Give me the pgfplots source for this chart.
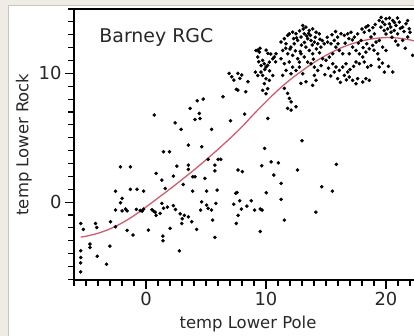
\documentclass[border=0pt]{standalone}
\usepackage{fontspec}
\setmainfont{DejaVu Sans}
\usepackage{pgfplots}
\usepackage{pgfplotstable}
\pgfplotsset{compat=1.18}
\definecolor{bgbeige}{RGB}{238,236,229}
\definecolor{framegray}{RGB}{200,198,192}
\definecolor{fitred}{RGB}{208,92,112}
\definecolor{txt}{RGB}{40,40,40}

\pgfplotstableread{
x y
-5.44 -1.66
-5.22 -2.12
-5.44 -3.78
-5.44 -4.30
-5.44 -4.72
-5.44 -5.42
-4.67 -3.26
-4.67 -3.52
-4.20 -1.66
-4.11 -1.97
-4.06 -4.20
-3.29 -4.82
-3.01 -3.42
-2.96 -1.53
-2.54 -1.92
-2.54 0.85
-2.54 -0.62
-2.13 -0.05
-2.13 2.74
-1.99 -0.68
-1.99 0.29
-1.71 -0.54
-1.57 -0.68
-1.57 -2.20
-1.30 2.74
-1.30 0.99
-1.08 -2.56
-0.80 -0.57
-0.75 0.99
-0.47 -0.65
-0.33 -0.70
-0.20 0.85
-0.20 -0.54
0.20 -2.18
0.50 -0.60
0.63 -0.70
0.69 6.76
0.77 -0.78
0.85 -1.03
0.85 2.23
1.18 -0.88
1.32 -0.10
1.32 1.71
1.41 -2.64
1.41 -3.00
1.46 3.91
1.46 -0.47
1.60 1.06
1.79 -0.39
1.96 3.91
2.01 -2.04
2.28 2.02
2.28 -0.28
2.43 6.16
2.46 -0.57
2.57 2.80
2.78 -3.78
2.85 -0.91
2.92 5.65
2.98 -1.66
3.02 -1.29
3.11 1.37
3.19 -1.03
3.53 4.43
3.53 2.87
3.53 2.54
3.53 -1.14
3.67 7.28
3.81 -1.53
3.89 1.97
3.89 0.85
4.08 1.97
4.08 6.42
4.22 -2.12
4.27 7.87
4.44 6.89
4.50 6.50
4.55 -0.62
4.64 4.30
4.64 0.02
4.77 8.00
4.91 1.84
5.05 0.85
5.05 -0.23
5.18 3.32
5.18 -0.49
5.46 5.65
5.46 -0.62
5.55 -1.40
5.74 2.87
5.74 2.43
5.74 -2.74
5.82 -0.10
5.93 0.93
6.01 3.32
6.23 3.32
6.42 8.18
7.67 2.49
8.03 2.36
9.65 2.82
9.88 4.17
10.43 3.13
11.03 3.05
12.63 2.49
13.00 4.76
15.86 2.93
10.65 2.10
11.26 1.45
14.65 1.19
15.53 0.85
7.48 0.68
7.58 0.75
10.02 0.72
7.31 -0.16
7.81 0.10
8.41 -0.31
8.77 0.10
7.95 -0.54
9.05 -0.62
9.52 -0.54
9.68 -0.62
7.67 -1.03
7.53 -1.66
11.26 0.21
11.53 -1.40
14.16 -0.78
9.52 -2.28
10.15 6.50
7.04 6.32
8.22 6.84
6.92 10.00
7.15 9.74
7.65 10.00
7.98 9.87
7.82 9.61
7.32 9.48
7.65 8.70
8.31 8.57
8.49 9.35
7.53 8.76
9.32 11.81
10.01 11.81
10.15 11.55
9.17 11.78
9.44 11.65
9.31 11.27
9.72 11.01
9.86 10.75
10.14 10.62
10.00 10.49
10.28 10.88
10.56 11.14
10.69 11.27
10.83 11.52
9.58 10.10
9.72 9.84
10.00 9.59
10.28 9.46
10.56 9.84
9.31 9.84
9.11 10.10
9.86 9.20
10.14 8.81
9.72 8.68
10.00 8.42
9.40 10.90
9.60 10.60
9.90 10.30
10.30 10.20
10.40 11.50
9.50 11.95
10.80 10.90
11.53 8.83
11.80 8.45
11.95 8.06
12.09 7.79
11.80 7.28
12.09 7.15
12.50 7.40
12.91 9.22
13.33 9.35
11.25 12.43
11.53 12.69
11.81 12.95
11.94 13.07
12.22 13.20
12.50 13.07
11.67 12.30
12.08 12.04
12.36 12.30
12.64 12.56
11.39 11.78
11.81 11.52
12.22 11.40
12.64 11.14
12.78 10.88
11.94 10.88
11.53 10.75
11.25 11.14
12.22 10.49
12.50 10.23
11.67 10.23
11.39 9.84
12.08 9.97
12.30 12.70
12.55 12.75
12.80 13.30
13.10 13.45
13.40 12.90
13.55 13.10
13.70 12.95
14.10 12.80
14.50 12.65
14.70 12.55
13.20 12.40
12.95 12.20
13.85 12.20
14.20 11.90
14.45 11.60
13.95 11.10
12.45 11.75
12.00 11.90
11.65 11.95
12.85 11.70
13.06 13.72
13.33 13.59
13.61 13.33
13.89 13.46
14.17 13.20
14.44 13.07
13.19 13.07
12.92 12.82
13.47 12.69
13.75 12.56
14.03 12.43
14.31 12.30
13.33 12.04
13.61 11.78
13.89 11.52
12.92 11.52
13.19 11.27
13.47 10.88
13.75 10.75
14.03 10.49
14.31 10.23
14.03 9.84
14.17 9.46
13.89 9.07
13.06 9.97
12.78 10.49
14.58 12.04
14.86 12.30
15.14 12.43
15.42 12.30
15.69 12.56
15.97 12.82
16.25 13.07
16.53 12.95
15.83 12.04
16.11 11.78
16.39 11.52
15.56 11.52
15.28 11.27
15.00 11.01
14.72 11.14
15.56 10.75
15.83 10.49
16.11 10.23
16.39 10.49
16.67 10.75
16.81 10.10
16.94 9.72
17.22 9.46
17.50 9.20
17.64 9.59
16.53 9.84
15.97 9.59
15.69 10.10
14.60 10.60
15.20 10.40
14.90 9.90
15.40 9.80
16.20 9.30
16.70 9.50
17.00 10.30
17.30 10.55
15.10 12.80
15.50 13.00
15.80 13.25
16.00 12.30
16.60 12.35
16.90 12.70
17.20 12.60
17.70 12.35
18.10 12.00
18.40 12.30
16.81 13.07
17.08 13.20
17.36 12.82
17.64 13.07
17.92 12.56
18.19 13.20
18.33 13.59
18.61 13.33
18.75 12.82
17.22 12.04
17.50 11.78
17.78 11.52
18.06 11.27
18.33 11.65
18.61 11.91
18.89 12.17
18.19 10.88
18.47 10.49
18.75 10.62
17.78 10.75
17.50 10.88
16.94 11.52
18.33 9.59
18.61 9.46
18.06 9.33
18.00 13.45
18.50 13.70
18.90 13.55
19.10 13.80
19.60 14.35
19.90 13.80
20.30 14.30
20.40 13.60
20.70 13.95
20.95 14.30
21.20 13.50
21.50 13.25
21.80 14.10
22.00 13.20
20.50 12.80
20.80 12.50
21.00 12.20
21.60 11.95
19.00 11.80
19.40 11.10
19.70 10.80
20.20 10.55
20.00 13.05
19.44 14.11
19.72 13.98
20.00 14.24
20.28 13.85
20.56 14.11
20.83 13.72
21.11 13.98
21.39 13.59
21.67 13.85
21.94 13.46
19.58 13.59
19.86 13.33
20.14 13.46
20.42 13.20
20.69 13.33
20.97 13.07
21.39 12.56
21.81 12.82
22.22 11.40
19.44 12.56
19.72 12.04
20.00 11.78
19.31 11.52
19.44 10.49
19.86 10.10
20.56 10.10
19.03 13.07
19.17 12.43
}\pts

\pgfplotstableread{
x y
-5.44 -2.72
-5 -2.65
-4 -2.42
-3 -2.08
-2 -1.62
-1 -1.05
0 -0.38
1 0.32
2 1.02
3 1.75
4 2.50
5 3.28
6 4.10
7 4.95
8 5.85
9 6.85
10 7.80
11 8.70
12 9.50
13 10.20
14 10.85
15 11.40
16 11.88
17 12.25
18 12.52
19 12.70
20 12.78
21 12.74
22 12.60
23 12.35
}\fit

\begin{document}
\begin{tikzpicture}
\path[use as bounding box] (0bp,0bp) rectangle (414bp,336bp);
\fill[bgbeige] (0bp,0bp) rectangle (414bp,336bp);
\fill[white] (9bp,0bp) rectangle (414bp,330bp);
\draw[framegray, line width=1bp] (8.5bp,0bp) -- (8.5bp,330.5bp) -- (414bp,330.5bp);
\begin{scope}
\clip (0bp,0bp) rectangle (414bp,336bp);
\begin{axis}[
  at={(74bp,56bp)}, anchor=south west,
  scale only axis, width=348bp, height=271bp,
  xmin=-6, xmax=23, ymin=-6.05, ymax=15,
  axis line style={line width=1.6bp, black},
  tick style={line width=1.1bp, black},
  tick align=outside, tick pos=left,
  xtick={0,10,20}, ytick={0,10},
  minor xtick={-6,-5,...,23}, minor ytick={-6,-5,...,15},
  major tick length=9bp, minor tick length=5.5bp,
  /pgf/number format/assume math mode=true,
  tick label style={font=\fontsize{18}{18}\selectfont, text=txt},
  label style={font=\fontsize{16.5}{16.5}\selectfont, text=txt},
  xlabel={temp Lower Pole}, ylabel={temp Lower Rock},
  xlabel style={yshift=-3bp},
  clip=true,
]
\addplot[only marks, mark=*, mark size=1.6bp, mark options={draw=black, fill=black}] table {\pts};
\addplot[fitred, line width=1.3bp, smooth] table {\fit};
\node[anchor=base west, font=\fontsize{19}{19}\selectfont, text=txt] at (rel axis cs:0.063,0.878) {Barney RGC};
\end{axis}
\end{scope}
\end{tikzpicture}
\end{document}
